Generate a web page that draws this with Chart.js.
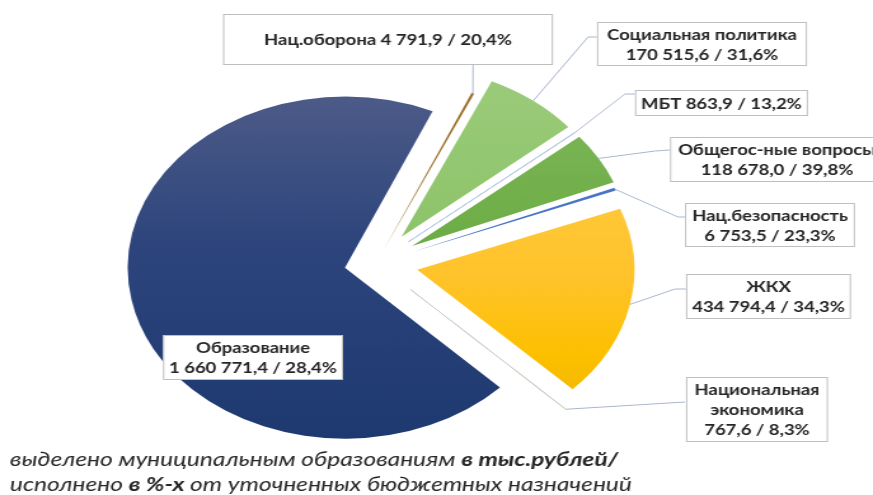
<!DOCTYPE html>
<html>
<head>
<meta charset="utf-8">
<script src="https://cdn.jsdelivr.net/npm/chart.js@4.4.1/dist/chart.umd.min.js"></script>
<style>
  html, body { margin: 0; padding: 0; background: #fff; overflow: hidden; }
  #wrap { width: 873px; height: 495px; overflow: hidden; }
  /* the original picture is stretched sideways, so is ours */
  #budget { transform: scaleX(1.2707); transform-origin: 0 0; }
</style>
</head>
<body>
<div id="wrap"><canvas id="budget" width="687" height="495"></canvas></div>
<script>
// data, clockwise from the top
const categories = ["Нац.оборона", "Социальная политика", "МБТ", "Общегос-ные вопросы",
  "Нац.безопасность", "ЖКХ", "Национальная экономика", "Образование"];
const allocated = [4791.9, 170515.6, 863.9, 118678.0, 6753.5, 434794.4, 767.6, 1660771.4];
const executedPct = [20.4, 31.6, 13.2, 39.8, 23.3, 34.3, 8.3, 28.4];
const captionLine1 = [["выделено муниципальным образованиям ", false], ["в тыс.рублей/", true]];
const captionLine2 = [["исполнено ", false], ["в %-х", true], [" от уточненных бюджетных назначений", false]];

const SX = 1.2707; // horizontal stretch of the picture
const FONT = "Lato, 'Open Sans', sans-serif";

// how far each slice is pulled out (px)
const explode = [15, 33, 33, 33, 31, 33, 38, 25];

// label boxes [x1, y1, x2, y2] in picture coords, name lines, leader elbows
const labelLayout = [
  { box: [223, 14, 553, 65], names: null, leader: [[473, 65]] },
  { box: [597, 22, 807, 66], names: ["Социальная политика"], leader: [[588, 37], [597, 37]] },
  { box: [635, 90, 808, 116], names: null, leader: [[625, 94], [635, 94]] },
  { box: [670, 137, 884, 182], names: ["Общегос-ные вопросы"], leader: [[655, 151], [670, 150]] },
  { box: [685, 203, 855, 247], names: ["Нац.безопасность"], leader: [[678, 217], [685, 217]] },
  { box: [686, 274, 851, 319], names: ["ЖКХ"], leader: [[675, 289], [686, 289]] },
  { box: [686, 377, 828, 442], names: ["Национальная", "экономика"], leader: [[685, 402]] },
  { box: [163, 335, 343, 380], names: ["Образование"], leader: null }
];

const sliceColors = [
  [[0, "#9a6f2c"], [1, "#b8893e"]],
  [[0, "#9bcb7a"], [0.45, "#8cc368"], [1, "#80ba58"]],
  [[0, "#c5d3ea"], [1, "#b4c7e7"]],
  [[0, "#80b85c"], [0.5, "#6aab42"], [1, "#5f9f38"]],
  [[0, "#4a76c8"], [1, "#4472c4"]],
  [[0, "#ffcf4e"], [0.55, "#ffc32a"], [0.75, "#fdc000"], [1, "#e6b200"]],
  [[0, "#d5dccf"], [1, "#c9d1c4"]],
  [[0, "#505d89"], [0.45, "#2d457c"], [1, "#1d3970"]]
];
// the two hair-thin slices get an outline so they stay visible
const thinOutline = [0, 0, 1, 0, 0, 0, 1, 0];

function fmtNum(v) {
  const [i, f] = v.toFixed(1).split(".");
  return i.replace(/\B(?=(\d{3})+(?!\d))/g, " ") + "," + f;
}
function fmtPct(v) {
  return v.toFixed(1).replace(".", ",") + "%";
}

function sliceFill(context) {
  const ctx = context.chart.ctx;
  const g = ctx.createLinearGradient(0, 80, 0, 445);
  sliceColors[context.dataIndex].forEach(([o, c]) => g.addColorStop(o, c));
  return g;
}

const explodePlugin = {
  id: "explodeSlices",
  afterDatasetsUpdate(chart) {
    chart.getDatasetMeta(0).data.forEach((arc, i) => {
      const mid = (arc.startAngle + arc.endAngle) / 2;
      arc.x += Math.cos(mid) * explode[i];
      arc.y += Math.sin(mid) * explode[i];
    });
  }
};

const labelPlugin = {
  id: "boxLabels",
  afterDraw(chart) {
    const ctx = chart.ctx;
    const arcs = chart.getDatasetMeta(0).data;
    ctx.save();
    labelLayout.forEach((lay, i) => {
      const arc = arcs[i];
      const [x1, y1, x2, y2] = lay.box.map((v, k) => (k % 2 === 0 ? v / SX : v));
      // leader line
      if (lay.leader) {
        const mid = (arc.startAngle + arc.endAngle) / 2;
        ctx.beginPath();
        ctx.moveTo(arc.x + Math.cos(mid) * arc.outerRadius, arc.y + Math.sin(mid) * arc.outerRadius);
        lay.leader.forEach(([px, py]) => ctx.lineTo(px / SX, py));
        ctx.strokeStyle = "#a9b7cf";
        ctx.lineWidth = 1;
        ctx.stroke();
      }
      // box
      ctx.fillStyle = "#ffffff";
      ctx.fillRect(x1, y1, x2 - x1, y2 - y1);
      ctx.strokeStyle = "#bfbfbf";
      ctx.lineWidth = 1;
      ctx.strokeRect(x1 + 0.5, y1 + 0.5, x2 - x1 - 1, y2 - y1 - 1);
      // text
      const valueText = fmtNum(allocated[i]) + " / " + fmtPct(executedPct[i]);
      const lines = lay.names ? lay.names.concat([valueText]) : [categories[i] + " " + valueText];
      ctx.fillStyle = "#262626";
      ctx.font = "bold 14.5px " + FONT;
      ctx.textAlign = "center";
      ctx.textBaseline = "middle";
      const lh = 20;
      const cy = (y1 + y2) / 2 - (lines.length - 1) * lh / 2 + 1;
      lines.forEach((t, k) => ctx.fillText(t, (x1 + x2) / 2, cy + k * lh));
    });
    // caption under the chart
    ctx.textAlign = "left";
    ctx.textBaseline = "alphabetic";
    [[captionLine1, 466], [captionLine2, 491]].forEach(([parts, y]) => {
      let x = 10 / SX;
      parts.forEach(([t, bold]) => {
        ctx.font = "italic " + (bold ? "bold " : "") + "19.3px " + FONT;
        ctx.fillText(t, x, y);
        x += ctx.measureText(t).width;
      });
    });
    ctx.restore();
  }
};

const chart = new Chart(document.getElementById("budget"), {
  type: "pie",
  data: {
    labels: categories,
    datasets: [{
      data: allocated,
      backgroundColor: sliceFill,
      borderColor: ctx => sliceColors[ctx.dataIndex][1][1],
      borderWidth: ctx => thinOutline[ctx.dataIndex]
    }]
  },
  options: {
    responsive: false,
    animation: false,
    events: [],
    rotation: 23.8,
    radius: 171,
    layout: { padding: { left: 0, right: 95, top: 31, bottom: 0 } },
    plugins: {
      legend: { display: false },
      tooltip: { enabled: false }
    }
  },
  plugins: [explodePlugin, labelPlugin]
});
</script>
</body>
</html>
